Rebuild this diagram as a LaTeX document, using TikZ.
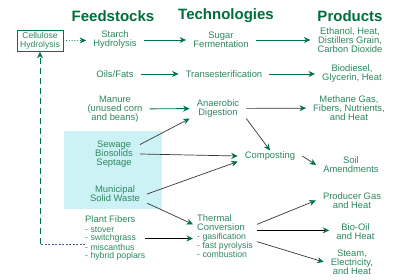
\documentclass[tikz,border=0pt]{standalone}
\usepackage{fontspec}
\setmainfont{Liberation Sans}
\usepackage{xcolor}
\usetikzlibrary{arrows.meta}

\definecolor{hdgreen}{RGB}{0,110,60}
\definecolor{txgreen}{RGB}{45,135,95}
\definecolor{arrgreen}{RGB}{0,115,70}
\definecolor{lnedark}{RGB}{55,55,55}
\definecolor{wetcyan}{RGB}{205,242,246}
\definecolor{dashblue}{RGB}{70,90,170}

\begin{document}
\begin{tikzpicture}[x=1pt, y=-1pt,
  every node/.style={font=\fontsize{9.4}{9}\selectfont, text=txgreen, align=center, inner xsep=7pt, inner ysep=1pt},
  head/.style={font=\fontsize{15}{15}\selectfont\bfseries, text=hdgreen},
  listtxt/.style={align=left, font=\fontsize{8.7}{9}\selectfont},
  flowg/.style={draw=arrgreen, line width=0.9pt, -{Stealth[length=6.5pt,width=6pt]}},
  flowk/.style={draw=lnedark, line width=0.7pt, -{Stealth[length=6.5pt,width=6pt,color=arrgreen]}}]
\useasboundingbox (0,0) rectangle (400,280);
\fill[white] (0,0) rectangle (400,280);
\node[fill=wetcyan, minimum width=98pt, minimum height=78pt, inner sep=0pt] (wetbox) at (113,170) {};

\node[head] (hdfeed) at (113,16) {Feedstocks};
\node[head] (hdtech) at (226,16) {Technologies};
\node[head] (hdprod) at (350,16) {Products};

\node[draw=arrgreen, line width=0.6pt, font=\fontsize{8.6}{9}\selectfont, minimum width=46pt, minimum height=21pt, inner sep=1pt] (cell) at (40,41) {Cellulose\\Hydrolysis};
\node (starch) at (115,40) {Starch\\Hydrolysis};
\node (sugar) at (221,40) {Sugar\\Fermentation};
\node (ethanol) at (350,40) {Ethanol, Heat,\\Distillers Grain,\\Carbon Dioxide};

\node (oils) at (115,74) {Oils/Fats};
\node (trans) at (224,74) {Transesterification};
\node (biodiesel) at (352,74) {Biodiesel,\\Glycerin, Heat};

\node (manure) at (115,109) {Manure\\(unused corn\\and beans)};
\node (anaer) at (218,108.5) {Anaerobic\\Digestion};
\node (methane) at (349,108) {Methane Gas,\\Fibers, Nutrients,\\and Heat};

\node (sewage) at (114,154) {Sewage\\Biosolids\\Septage};
\node (msw) at (115,194) {Municipal\\Solid Waste};
\node (compost) at (270,156) {Composting};
\node (soil) at (351,165) {Soil\\Amendments};

\node[listtxt, anchor=west, inner xsep=0pt] (fibers) at (85,238.5) {{\fontsize{9.4}{9}\selectfont Plant Fibers}\\- stover\\- switchgrass\\- miscanthus\\- hybrid poplars};
\node[listtxt, anchor=west, inner xsep=4pt] (thermal) at (193,236) {{\fontsize{9.4}{9}\selectfont Thermal}\\{\fontsize{9.4}{9}\selectfont Conversion}\\- gasification\\- fast pyrolysis\\- combustion};
\node (producer) at (352,200.5) {Producer Gas\\and Heat};
\node (biooil) at (355.5,232) {Bio-Oil\\and Heat};
\node (steam) at (352,262) {Steam,\\Electricity,\\and Heat};

\coordinate (elbow) at (40,244);

\draw[draw=arrgreen, line width=0.8pt, dotted, -{Stealth[length=6.5pt,width=6pt]}] (cell) -- (starch);
\draw[flowg] (starch) -- (sugar);
\draw[flowg] (sugar) -- (ethanol);
\draw[flowg] (oils) -- (trans);
\draw[flowg] (trans) -- (biodiesel);
\draw[flowg] (manure) -- (anaer);
\draw[flowk] (anaer) -- (methane);
\draw[flowk] (sewage.20) -- (anaer.south west);
\draw[flowk] (sewage.east) -- (compost.west);
\draw[flowk] (msw.east) -- (compost.south west);
\draw[flowk] (anaer.south east) -- (compost.north);
\draw[flowk] (compost.east) -- (soil.west);
\draw[flowk] (msw.south east) -- (thermal.160);
\draw[flowk, draw=black] (fibers.east) -- (fibers.east -| thermal.west);
\draw[flowk] (thermal.20) -- (producer.west);
\draw[flowk, draw=black] (thermal.10) -- (thermal.10 -| biooil.west);
\draw[flowk] (thermal.-10) -- (steam.west);

\draw[dashblue, line width=0.7pt, dash pattern=on 2pt off 1.5pt] (fibers.west |- elbow) -- (elbow);
\draw[arrgreen, line width=0.8pt, dash pattern=on 6pt off 4pt, -{Stealth[length=6.5pt,width=6pt]}] (elbow) -- (cell);
\end{tikzpicture}
\end{document}
